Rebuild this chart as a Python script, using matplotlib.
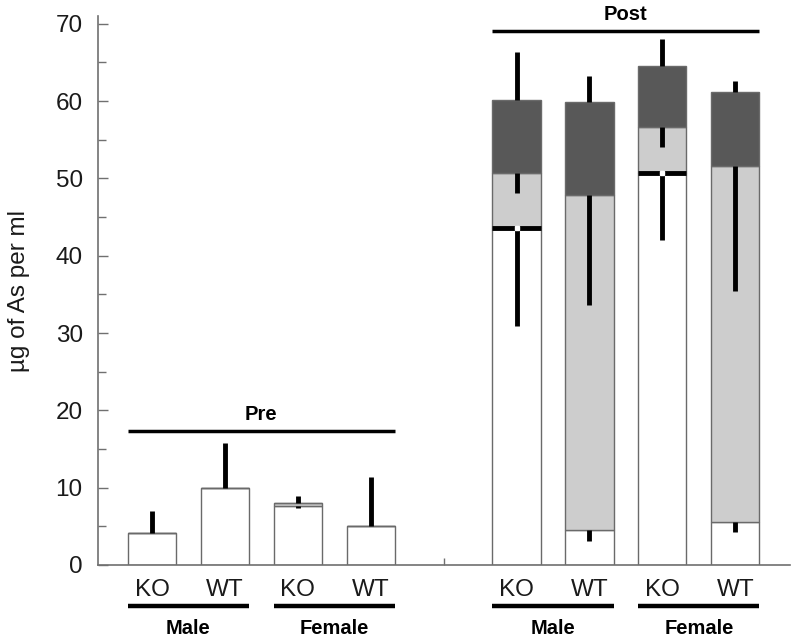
import matplotlib
matplotlib.use("Agg")
import matplotlib.pyplot as plt
import numpy as np
from matplotlib.ticker import MultipleLocator

plt.rcParams["font.family"] = ["Liberation Sans", "DejaVu Sans"]

# bar positions: Pre (Male KO, Male WT, Female KO, Female WT), gap, Post (same order)
positions = [0, 1, 2, 3, 5, 6, 7, 8]
genotypes = ["KO", "WT", "KO", "WT", "KO", "WT", "KO", "WT"]
sexes = ["Male", "Female", "Male", "Female"]
phases = ["Pre", "Post"]

# cumulative tops of the stacked segments (ug As / ml)
white_top = [4.1, 10.0, 7.6, 5.0, 43.6, 4.5, 50.7, 5.5]
light_top = [4.1, 10.0, 8.0, 5.0, 50.7, 47.8, 56.6, 51.6]
dark_top = [4.1, 10.0, 8.0, 5.0, 60.2, 59.9, 64.5, 61.2]

# error bars: total up, light segment down, white segment down
err_total = [2.9, 5.8, 0.9, 6.4, 6.1, 3.3, 3.5, 1.4]
err_light = [0, 0, 0, 0, 2.6, 14.2, 2.6, 16.2]
err_white = [0, 0, 0.2, 0, 12.7, 1.4, 8.7, 1.2]
white_marked = [False, False, False, False, True, False, True, False]

WHITE = "#ffffff"
LIGHT = "#cdcdcd"
DARK = "#585858"
EDGE = "#6a6a6a"
AXIS = "#707070"


def main() -> None:
    x = np.array(positions, dtype=float)
    wt = np.array(white_top)
    lt = np.array(light_top)
    dt = np.array(dark_top)
    width = 0.66

    fig = plt.figure(figsize=(8, 6.42), dpi=100)
    ax = fig.add_axes([0.1225, 0.12, 0.865, 0.855])

    ax.bar(x, wt, width, color=WHITE, edgecolor=EDGE, linewidth=1.0, zorder=2)
    ax.bar(x, lt - wt, width, bottom=wt, color=LIGHT, edgecolor=EDGE, linewidth=1.0, zorder=2)
    ax.bar(x, dt - lt, width, bottom=lt, color=DARK, edgecolor=EDGE, linewidth=1.0, zorder=2)

    ax.vlines(x, dt, dt + np.array(err_total), color="black", linewidth=3.5, zorder=3)
    ax.vlines(x, lt - np.array(err_light), lt, color="black", linewidth=3.5, zorder=3)
    ax.vlines(x, wt - np.array(err_white), wt, color="black", linewidth=3.5, zorder=3)

    for xi, wi, mark in zip(x, wt, white_marked):
        if mark:
            ax.hlines(wi, xi - width / 2, xi + width / 2, color="black", linewidth=3.5, zorder=4)
            ax.plot(xi, wi, "s", color="white", markersize=2.5, zorder=5)

    ax.set_xlim(-0.74, 8.75)
    ax.set_ylim(0, 71)

    ax.spines["top"].set_visible(False)
    ax.spines["right"].set_visible(False)
    for side in ("left", "bottom"):
        ax.spines[side].set_color(AXIS)
        ax.spines[side].set_linewidth(1.2)

    ax.yaxis.set_major_locator(MultipleLocator(10))
    ax.yaxis.set_minor_locator(MultipleLocator(5))
    ax.tick_params(axis="y", which="major", direction="in", length=7, width=1.0,
                   color=AXIS, labelsize=17.5, labelcolor="#1a1a1a", pad=11)
    ax.tick_params(axis="y", which="minor", direction="in", length=6, width=1.0, color=AXIS)
    ax.set_xticks([4])
    ax.set_xticklabels([])
    ax.tick_params(axis="x", direction="in", length=5, width=1.0, color=AXIS)

    ax.set_ylabel("µg of As per ml", fontsize=17.5, color="#1a1a1a")
    ax.yaxis.set_label_coords(-0.098, 0.5)

    # genotype labels and sex underlines
    for xi, g in zip(x, genotypes):
        ax.text(xi, -3.2, g, ha="center", va="center", fontsize=17.5, color="#1a1a1a", clip_on=False)
    for i, sex in enumerate(sexes):
        left, right = x[2 * i] - width / 2, x[2 * i + 1] + width / 2
        ax.plot([left, right], [-5.3, -5.3], color="black", linewidth=3.2,
                clip_on=False, solid_capstyle="butt")
        ax.text((left + right) / 2, -8.2, sex, ha="center", va="center", fontsize=14.5,
                fontweight="bold", clip_on=False)

    # Pre / Post brackets
    for i, (phase, y_line) in enumerate(zip(phases, [17.3, 69.1])):
        left, right = x[4 * i] - width / 2, x[4 * i + 3] + width / 2
        ax.plot([left, right], [y_line, y_line], color="black", linewidth=2.5,
                clip_on=False, solid_capstyle="butt")
        ax.text((left + right) / 2, y_line + 2.1, phase, ha="center", va="center",
                fontsize=14.5, fontweight="bold", clip_on=False)

    fig.savefig("out.png", dpi=100)
    plt.close(fig)


if __name__ == "__main__":
    main()
